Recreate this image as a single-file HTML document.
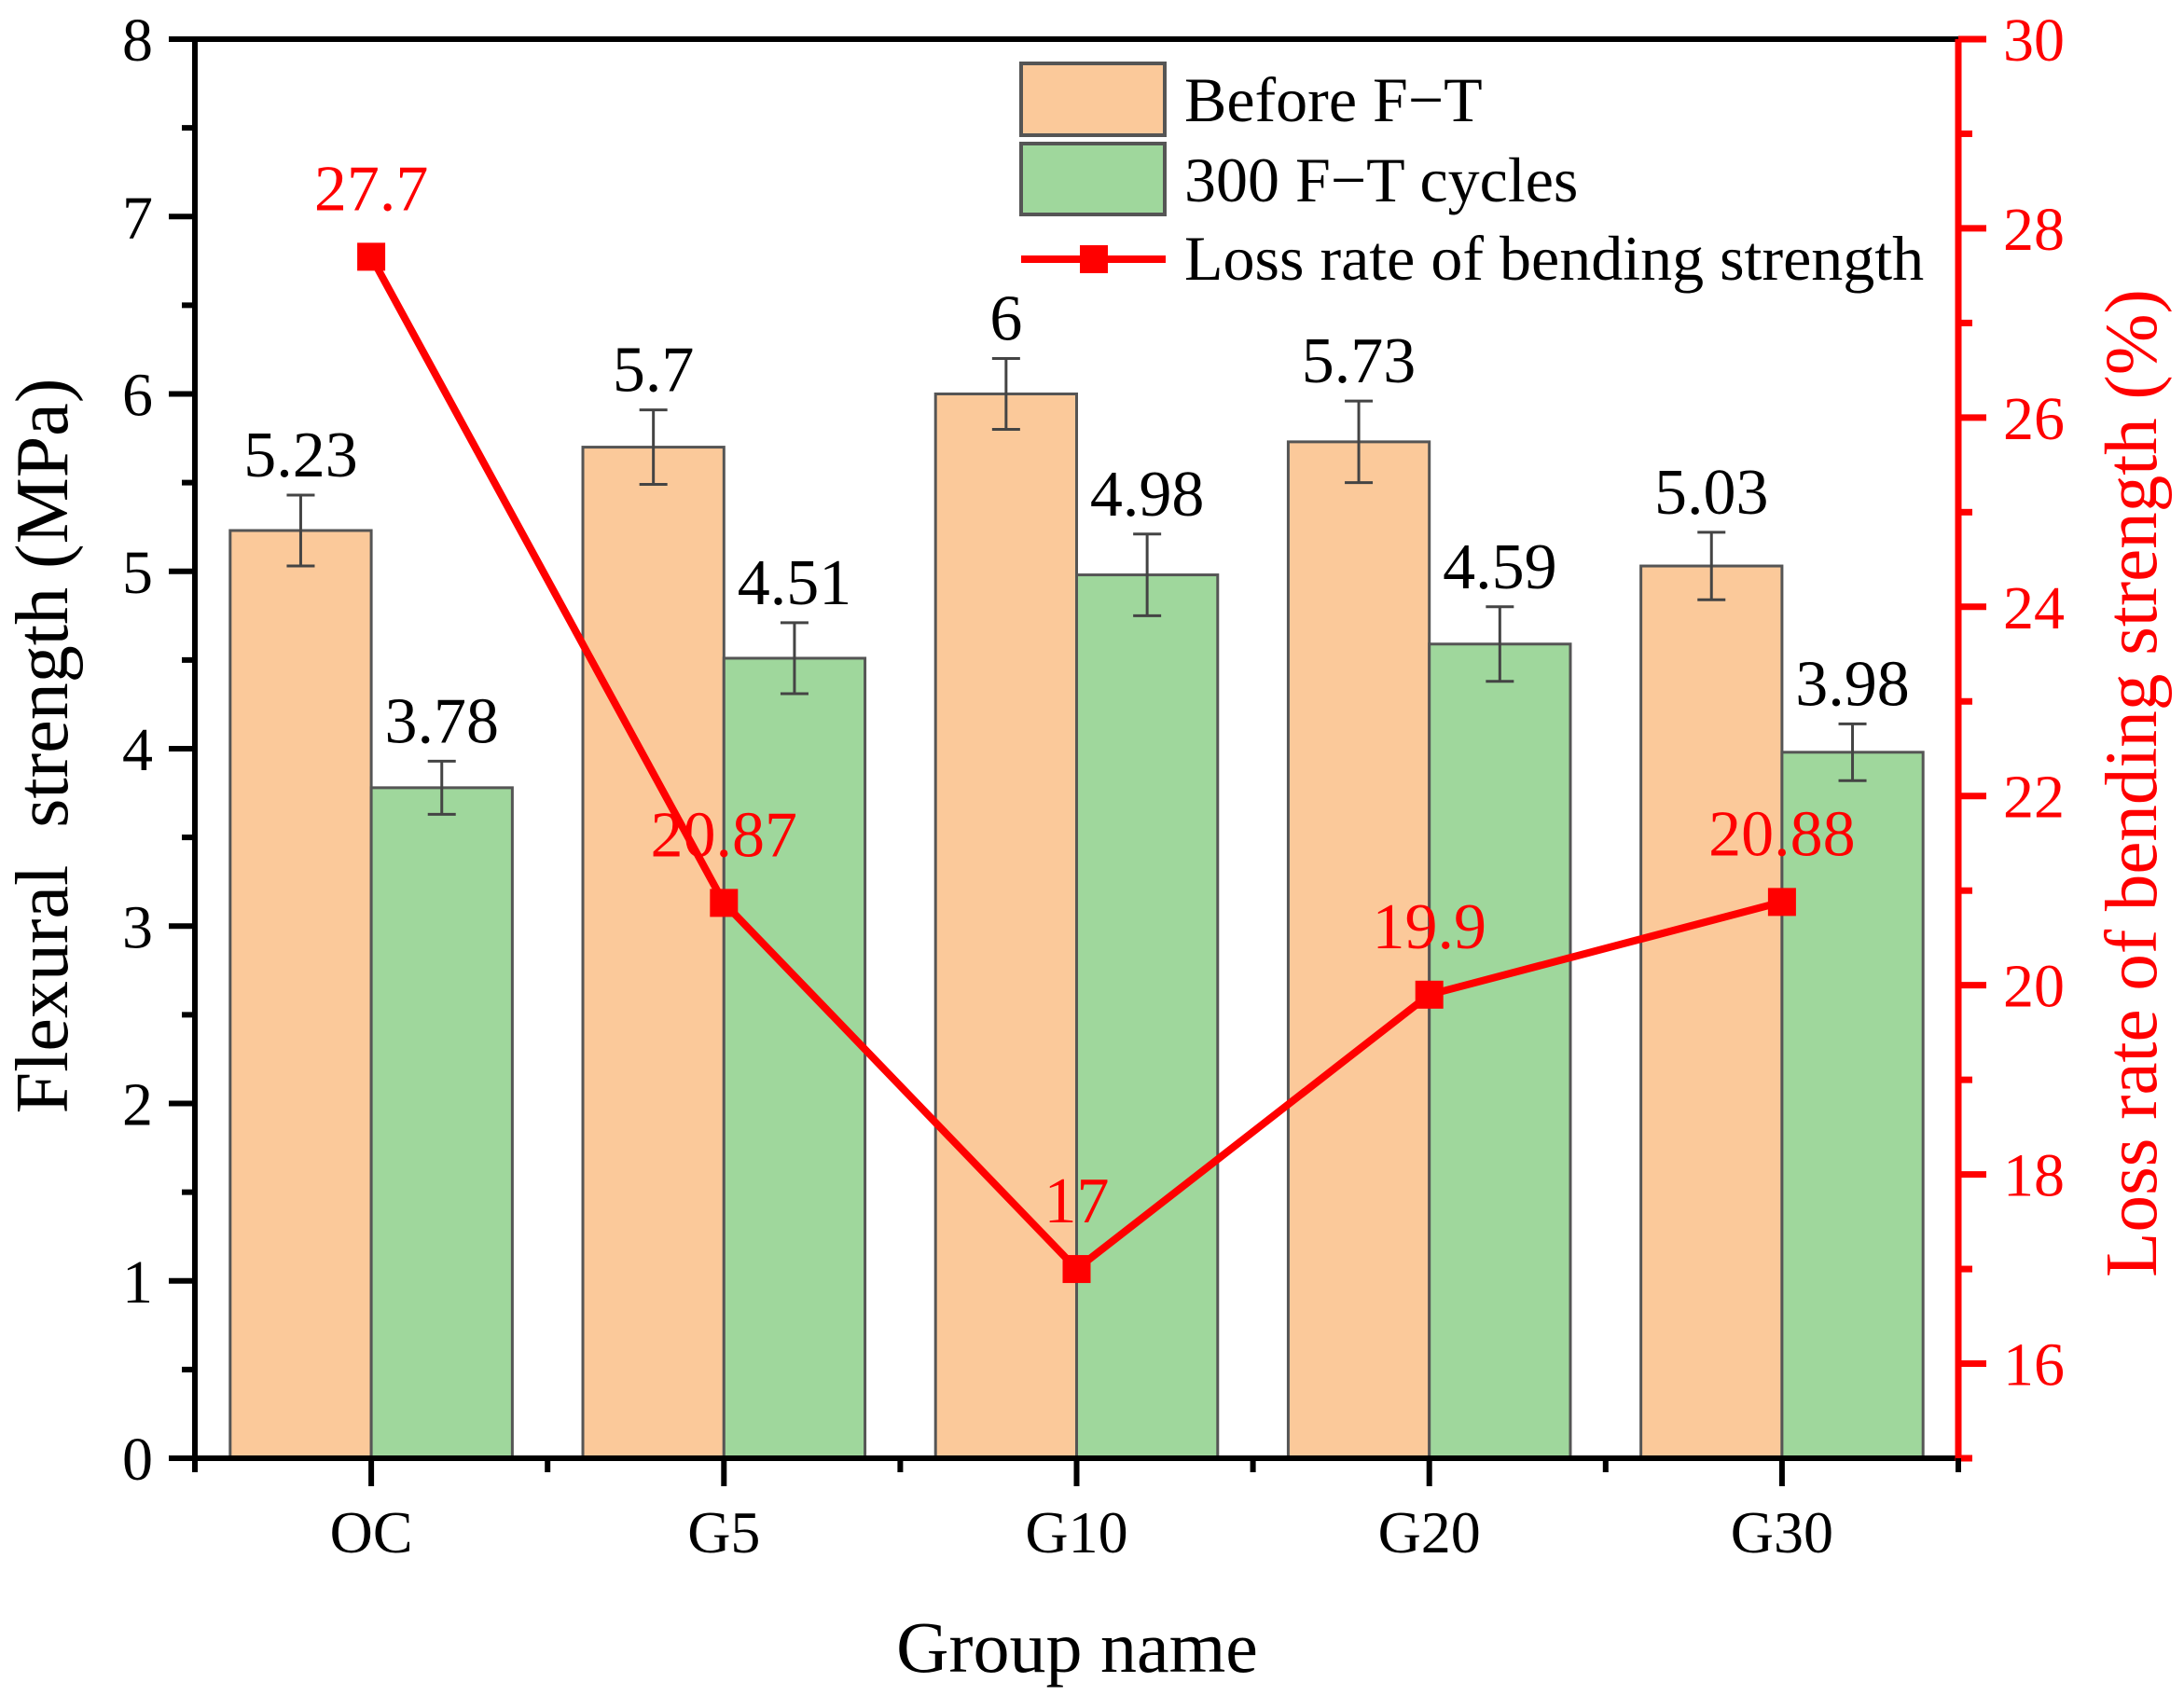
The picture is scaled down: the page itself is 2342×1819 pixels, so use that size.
<!DOCTYPE html>
<html><head><meta charset="utf-8"><style>
html,body{margin:0;padding:0;background:#fff;}
svg{display:block;font-family:"Liberation Serif",serif;}
</style></head><body>
<svg id="chart" width="2342" height="1819" viewBox="0 0 2342 1819" xmlns="http://www.w3.org/2000/svg">
<g id="plot"></g>
</svg>
<script>
const categories = ["OC","G5","G10","G20","G30"];
const beforeFT = [5.23,5.7,6,5.73,5.03];
const beforeErr = [0.2,0.21,0.2,0.23,0.19];
const afterFT = [3.78,4.51,4.98,4.59,3.98];
const afterErr = [0.15,0.2,0.23,0.21,0.16];
const lossRate = [27.7,20.87,17,19.9,20.88];
const lossLabels = ["27.7","20.87","17","19.9","20.88"];
const leftTicks = [0,1,2,3,4,5,6,7,8];
const rightTicks = [16,18,20,22,24,26,28,30];

const NS="http://www.w3.org/2000/svg";
const g=document.getElementById('plot');
const X0=209,X1=2100,Y0=1564,Y1=42;
const step=(X1-X0)/categories.length;
const xc=i=>X0+step*(i+0.5);
const yL=v=>Y0-(v/8)*(Y0-Y1);
const yR=v=>Y0-((v-15)/15)*(Y0-Y1);
const bw=step*0.4;
function el(t,a,txt){const e=document.createElementNS(NS,t);for(const k in a)e.setAttribute(k,a[k]);if(txt!==undefined)e.textContent=txt;g.appendChild(e);return e;}

for(let i=0;i<categories.length;i++){
  const b=el('rect',{x:xc(i)-bw,y:yL(beforeFT[i]),width:bw,height:Y0-yL(beforeFT[i]),fill:'#FBC99A',stroke:'#555',"stroke-width":3});
  
  
  const a=el('rect',{x:xc(i),y:yL(afterFT[i]),width:bw,height:Y0-yL(afterFT[i]),fill:'#9FD79C',stroke:'#555',"stroke-width":3});
  
  
  [[xc(i)-bw/2,beforeFT[i],beforeErr[i]],[xc(i)+bw/2,afterFT[i],afterErr[i]]].forEach(([x,v,e])=>{
    const eb=el('path',{d:`M${x-15},${yL(v+e)}H${x+15}M${x},${yL(v+e)}V${yL(v-e)}M${x-15},${yL(v-e)}H${x+15}`,stroke:'#444',"stroke-width":3,fill:'none'});
    
    
    const t=el('text',{x:x,y:yL(v+e)-20,"font-size":70,"text-anchor":"middle",fill:'#000'},String(v));
    
    
  });
}
const pts=lossRate.map((v,i)=>xc(i)+','+yR(v)).join(' ');
const ln=el('polyline',{points:pts,fill:'none',stroke:'#FF0000',"stroke-width":8,"stroke-linejoin":"round"});


lossRate.forEach((v,i)=>{
  const m=el('rect',{x:xc(i)-15,y:yR(v)-15,width:30,height:30,fill:'#FF0000'});
  
  
  const t=el('text',{x:xc(i),y:yR(v)-50,"font-size":70,"text-anchor":"middle",fill:'#FF0000'},lossLabels[i]);
  
  
});
const ax=el('path',{d:`M${X0-10},${Y1}H${X1}M${X0},${Y1}V${Y0}H${X1}`,stroke:'#000',"stroke-width":6,fill:'none'});


const rax=el('line',{x1:X1,y1:Y1,x2:X1,y2:Y0+3,stroke:'#FF0000',"stroke-width":7});


leftTicks.forEach(v=>{
  el('line',{x1:X0-28,x2:X0,y1:yL(v),y2:yL(v),stroke:'#000',"stroke-width":6});
  if(v<8) el('line',{x1:X0-14,x2:X0,y1:yL(v+0.5),y2:yL(v+0.5),stroke:'#000',"stroke-width":6});
  const t=el('text',{x:X0-45,y:yL(v)+23,"font-size":66,"text-anchor":"end"},String(v));
  
  
});
rightTicks.forEach(v=>{
  el('line',{x1:X1,x2:X1+30,y1:yR(v),y2:yR(v),stroke:'#FF0000',"stroke-width":7});
  el('line',{x1:X1,x2:X1+15,y1:yR(v-1),y2:yR(v-1),stroke:'#FF0000',"stroke-width":7});
  const t=el('text',{x:X1+48,y:yR(v)+23,"font-size":66,fill:'#FF0000'},String(v));
  
  
});
categories.forEach((c,i)=>{
  el('line',{x1:xc(i),x2:xc(i),y1:Y0,y2:Y0+30,stroke:'#000',"stroke-width":6});
  el('line',{x1:X0+step*i,x2:X0+step*i,y1:Y0,y2:Y0+15,stroke:'#000',"stroke-width":6});
  const t=el('text',{x:xc(i),y:1665,"font-size":64,"text-anchor":"middle"},c);
  
  
});
el('line',{x1:X1,x2:X1,y1:Y0,y2:Y0+15,stroke:'#000',"stroke-width":6});
</script>
<svg style="position:absolute;left:0;top:0" width="2342" height="1819" xmlns="http://www.w3.org/2000/svg" font-family="Liberation Serif, serif">
<text x="0" y="0" transform="translate(72,800) rotate(-90)" font-size="80" text-anchor="middle" xml:space="preserve">Flexural  strength (MPa)</text>
<text x="0" y="0" transform="translate(2312,840) rotate(-90)" font-size="79" text-anchor="middle" fill="#FF0000">Loss rate of bending strength (%)</text>
<text x="1155" y="1793" font-size="78" text-anchor="middle">Group name</text>
<g>
<rect x="1095" y="68" width="154" height="77" fill="#FBC99A" stroke="#555" stroke-width="4"/>
<text x="1270" y="130" font-size="68">Before F−T</text>
<rect x="1095" y="154" width="154" height="76" fill="#9FD79C" stroke="#555" stroke-width="4"/>
<text x="1270" y="216" font-size="68">300 F−T cycles</text>
<line x1="1095" y1="278" x2="1250" y2="278" stroke="#FF0000" stroke-width="8"/>
<rect x="1158" y="263" width="30" height="30" fill="#FF0000"/>
<text x="1270" y="300" font-size="68">Loss rate of bending strength</text>
</g>
</svg>
</body></html>
